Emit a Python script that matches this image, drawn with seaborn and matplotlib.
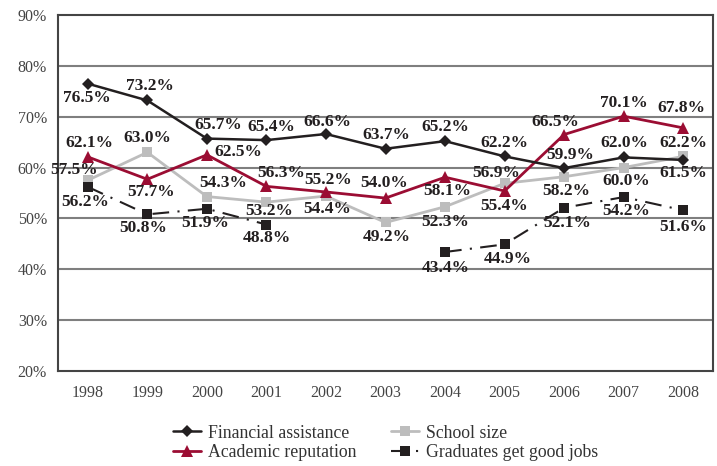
import numpy as np
import pandas as pd
import matplotlib
matplotlib.use("Agg")
import matplotlib.pyplot as plt
import seaborn as sns

years = [1998, 1999, 2000, 2001, 2002, 2003, 2004, 2005, 2006, 2007, 2008]
financial = [76.5, 73.2, 65.7, 65.4, 66.6, 63.7, 65.2, 62.2, 59.9, 62.0, 61.5]
academic = [62.1, 57.7, 62.5, 56.3, 55.2, 54.0, 58.1, 55.4, 66.5, 70.1, 67.8]
school = [57.5, 63.0, 54.3, 53.2, 54.4, 49.2, 52.3, 56.9, 58.2, 60.0, 62.2]
graduates = [56.2, 50.8, 51.9, 48.8, None, None, 43.4, 44.9, 52.1, 54.2, 51.6]
grad_segment = [0, 0, 0, 0, 0, 0, 1, 1, 1, 1, 1]
yticks = [20, 30, 40, 50, 60, 70, 80, 90]

# label offsets (pixels: dx, dy up)
off_fin = [(-1, -14), (3, 14), (11, 14), (5, 13), (1, 12), (1, 14), (0, 14), (0, 13), (6, 13), (1, 14), (0, -13)]
off_aca = [(2, 14), (4, -13), (31, 3), (15, 13), (2, 12), (-1, 15), (2, -14), (0, -15), (-9, 13), (0, 13), (-2, 20)]
off_sch = [(-14, 10), (0, 14), (16, 14), (3, -9), (1, -13), (1, -15), (0, -15), (-8, 10), (2, -14), (3, -13), (0, 13)]
off_grd = [(-3, -15), (-4, -14), (-2, -14), (0, -13), None, None, (1, -16), (3, -15), (3, -15), (3, -14), (0, -17)]

sns.set_theme(style="white")
plt.rcParams["font.family"] = ["Liberation Serif", "DejaVu Serif"]

BLACK = "#231f20"
RED = "#9b0d33"
GRAY = "#bdbdbd"

fig = plt.figure(figsize=(7.17, 4.66), dpi=100)
ax = fig.add_axes([58 / 717, 1 - 371 / 466, (713 - 58) / 717, (371 - 15) / 466])

df_fin = pd.DataFrame({"year": years, "v": financial})
df_aca = pd.DataFrame({"year": years, "v": academic})
df_sch = pd.DataFrame({"year": years, "v": school})
df_grd = pd.DataFrame({"year": years, "v": graduates, "seg": grad_segment}).dropna()

sns.lineplot(data=df_sch, x="year", y="v", ax=ax, color=GRAY, lw=2, marker="s",
             markersize=6.5, markeredgewidth=0, label="School size", zorder=3)
sns.lineplot(data=df_grd, x="year", y="v", units="seg", estimator=None, ax=ax, color=BLACK,
             lw=1.5, marker="s", markersize=6.5, markeredgewidth=0, dashes=False,
             linestyle=(0, (8, 4, 1, 4)), label="Graduates get good jobs", zorder=3)
sns.lineplot(data=df_aca, x="year", y="v", ax=ax, color=RED, lw=2, marker="^",
             markersize=8.5, markeredgewidth=0, label="Academic reputation", zorder=4)
sns.lineplot(data=df_fin, x="year", y="v", ax=ax, color=BLACK, lw=1.8, marker="D",
             markersize=6.5, markeredgewidth=0, label="Financial assistance", zorder=5)

ax.set_xlim(1997.5, 2008.5)
ax.set_ylim(20, 90)
ax.set_xticks(years)
ax.set_xticklabels([str(y) for y in years])
ax.set_yticks(yticks)
ax.set_yticklabels([f"{t}%" for t in yticks])
ax.set_xlabel("")
ax.set_ylabel("")
ax.grid(False)
for t in yticks[1:-1]:
    ax.axhline(t, color="#7f7f7f", lw=1.5, zorder=1)
for s in ax.spines.values():
    s.set_visible(True)
    s.set_color("#444444")
    s.set_linewidth(1.5)
ax.tick_params(axis="both", length=0, labelsize=11.5, colors="#444444", pad=8)
ax.tick_params(axis="x", pad=10)

px = 72 / 100
def annotate(vals, offs):
    for y, v, o in zip(years, vals, offs):
        if v is None or o is None:
            continue
        ax.annotate(f"{v:.1f}%", (y, v), xytext=(o[0] * px, o[1] * px),
                    textcoords="offset points", ha="center", va="center",
                    fontsize=12.5, fontweight="bold", color=BLACK, zorder=6)

annotate(financial, off_fin)
annotate(academic, off_aca)
annotate(school, off_sch)
annotate(graduates, off_grd)

handles, labels = ax.get_legend_handles_labels()
order = ["Financial assistance", "Academic reputation", "School size", "Graduates get good jobs"]
hmap = dict(zip(labels, handles))
ax.legend([hmap[l] for l in order], order, ncol=2, loc="center",
          bbox_to_anchor=(0.5, (443 - 371) / -356.0), frameon=False,
          fontsize=12.8, handlelength=1.6, handletextpad=0.4, columnspacing=1.9,
          labelspacing=0.15, labelcolor="#333333")

fig.savefig("out.png", dpi=100)
